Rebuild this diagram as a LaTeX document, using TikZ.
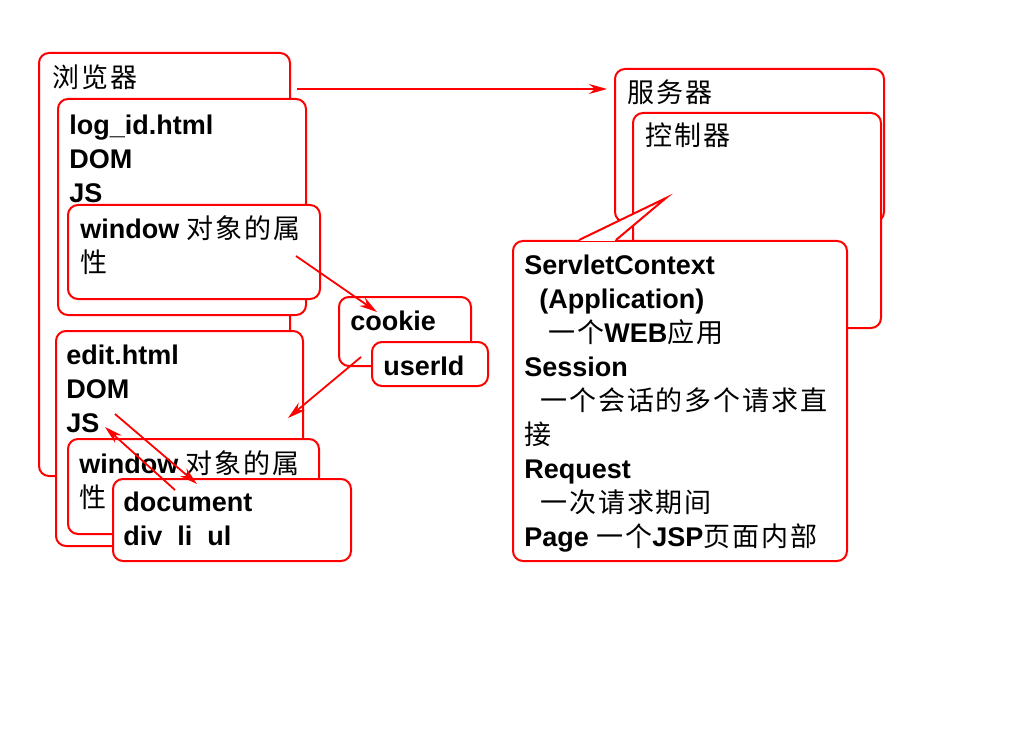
\documentclass[tikz,border=0pt]{standalone}
\usepackage{fontspec}
\setmainfont{Liberation Sans}
\newfontfamily\cjk[LetterSpace=7]{Noto Sans CJK SC}
\newcommand{\zh}[1]{{\cjk\mdseries #1}}
\usetikzlibrary{arrows.meta}

\begin{document}
\begin{tikzpicture}[x=0.5pt,y=-0.5pt,
  box/.style={draw=red,fill=white,line width=1pt,rounded corners=5pt,anchor=north west,inner sep=0},
  txt/.style={anchor=north west,inner sep=0,align=left,font=\fontsize{13.5}{17}\selectfont\bfseries},
  arr/.style={draw=red,line width=0.9pt,-{Stealth[length=9pt,width=5pt]}}]
\useasboundingbox (0,0) rectangle (1024,738);

\node[box,minimum width=125.5pt,minimum height=211.5pt] (browser) at (38,52) {};
\node[txt] (browser-t) at (52,64.5) {\zh{浏览器}};
\node[box,minimum width=124pt,minimum height=108pt] (logid) at (57,98) {};
\node[txt] (logid-t) at (69,114.5) {log\_id.html\\DOM\\JS};
\node[box,minimum width=126pt,minimum height=47pt] (win1) at (67,204) {};
\node[txt] (win1-t) at (80,215.5) {window \zh{对象的属}\\\zh{性}};

\node[box,minimum width=123.5pt,minimum height=107.5pt] (edit) at (55,330) {};
\node[txt] (edit-t) at (66,344.5) {edit.html\\DOM\\JS};
\node[box,minimum width=125.5pt,minimum height=47.5pt] (win2) at (67,438) {};
\node[txt] (win2-t) at (79,450.5) {window \zh{对象的属}\\\zh{性}};
\node[box,minimum width=119pt,minimum height=41pt] (doc) at (112,478) {};
\node[txt] (doc-t) at (123,491.5) {document\\div\ \ li\ \ ul};

\node[box,minimum width=66pt,minimum height=34.5pt] (cookie) at (338,296) {};
\node[txt] (cookie-t) at (350,310.5) {cookie};
\node[box,minimum width=58pt,minimum height=22pt] (userid) at (371,341) {};
\node[txt] (userid-t) at (383,355.5) {userId};

\node[box,minimum width=134.5pt,minimum height=76.5pt] (server) at (614,68) {};
\node[txt] (server-t) at (627,79.5) {\zh{服务器}};
\node[box,minimum width=124pt,minimum height=107.5pt] (ctrl) at (632,112) {};
\node[txt] (ctrl-t) at (645,122.5) {\zh{控制器}};

% callout
\node[box,minimum width=167pt,minimum height=160pt] (scope) at (512,240) {};
\coordinate (tip) at (666,198);
\fill[white] (580,239) rectangle (615,241.2);
\draw[red,line width=1pt,fill=white] (579,240) -- (tip) -- (616,240);
\node[txt] (scope-t) at (524,254.5) {ServletContext\\
  \hspace{7.5pt}(Application)\\
  \hspace{12pt}\zh{一个}WEB\zh{应用}\\
  Session\\
  \hspace{8pt}\zh{一个会话的多个请求直}\\
  \zh{接}\\
  Request\\
  \hspace{8pt}\zh{一次请求期间}\\
  Page \zh{一个}JSP\zh{页面内部}};

\coordinate (a1s) at (297,89);
\coordinate (a1e) at (607,89);
\coordinate (a2s) at (296,256);
\coordinate (a2e) at (377,312);
\coordinate (a3s) at (361,357);
\coordinate (a3e) at (288,418);
\coordinate (a4s) at (115,414);
\coordinate (a4e) at (197,484);
\coordinate (a5s) at (175,490);
\coordinate (a5e) at (105,427);
\draw[arr] (a1s) -- (a1e);
\draw[arr] (a2s) -- (a2e);
\draw[arr] (a3s) -- (a3e);
\draw[arr] (a4s) -- (a4e);
\draw[arr] (a5s) -- (a5e);
\end{tikzpicture}
\end{document}
